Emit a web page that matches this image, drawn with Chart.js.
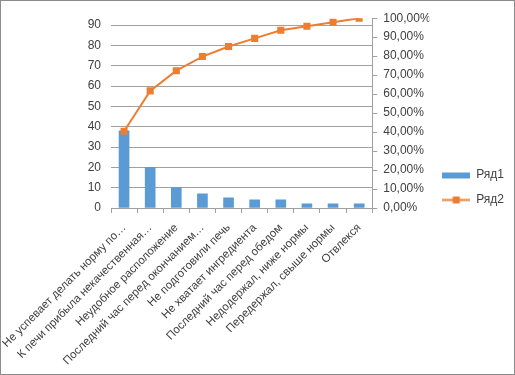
<!DOCTYPE html>
<html>
<head>
<meta charset="utf-8">
<script src="https://cdn.jsdelivr.net/npm/chart.js@4.4.1/dist/chart.umd.min.js"></script>
<style>
  html, body { margin: 0; padding: 0; background: #fff; }
  #wrap { width: 513px; height: 373px; border: 1px solid #8c8c8c; position: relative; }
</style>
</head>
<body>
<div id="wrap"><canvas id="paretoChart" width="513" height="373"></canvas></div>
<script>
// reasons (categories)
const labels = [
    "Не успевает делать норму по…",
    "К печи прибыла некачественная…",
    "Неудобное расположение",
    "Последний час перед окончанием…",
    "Не подготовили печь",
    "Не хватает ингредиента",
    "Последний час перед обедом",
    "Недодержал, ниже нормы",
    "Передержал, свыше нормы",
    "Отвлекся"
];
// Ряд1 - counts
const counts = [38, 20, 10, 7, 5, 4, 4, 2, 2, 2];
// Ряд2 - cumulative share, %
const cumulative = [40.43, 61.70, 72.34, 79.79, 85.11, 89.36, 93.62, 95.74, 97.87, 100];
const leftTicks = [0, 10, 20, 30, 40, 50, 60, 70, 80, 90];

const barColor = "#5B9BD5";
const lineColor = "#ED7D31";
const textColor = "#404040";
const gridColor = "#a0a0a0";
const fontFamily = "'Liberation Sans', Arial, sans-serif";

// legend swatches
function swatch(type) {
    const c = document.createElement("canvas");
    c.width = 28; c.height = 9;
    const g = c.getContext("2d");
    if (type === "bar") {
        g.fillStyle = barColor;
        g.fillRect(0, 2, 28, 6);
    } else {
        g.strokeStyle = lineColor;
        g.lineWidth = 2;
        g.beginPath(); g.moveTo(0, 4.5); g.lineTo(28, 4.5); g.stroke();
        g.fillStyle = lineColor;
        g.fillRect(10.5, 1, 7, 7);
    }
    return c;
}

new Chart(document.getElementById("paretoChart").getContext("2d"), {
    type: "bar",
    data: {
        labels: labels,
        datasets: [
            {
                type: "line",
                label: "Ряд2",
                data: cumulative,
                yAxisID: "y1",
                borderColor: lineColor,
                backgroundColor: lineColor,
                borderWidth: 2,
                pointStyle: "rect",
                pointRadius: 5,
                pointBorderWidth: 0,
                tension: 0,
                order: 0
            },
            {
                label: "Ряд1",
                data: counts,
                yAxisID: "y",
                backgroundColor: barColor,
                barThickness: 10,
                order: 1
            }
        ]
    },
    options: {
        responsive: false,
        animation: false,
        layout: { padding: 0 },
        plugins: {
            tooltip: { enabled: false },
            legend: {
                position: "right",
                labels: {
                    color: textColor,
                    font: { family: fontFamily, size: 12 },
                    usePointStyle: true,
                    pointStyleWidth: 28,
                    padding: 13,
                    generateLabels() {
                        return [
                            { text: "Ряд1", pointStyle: swatch("bar"), fillStyle: barColor, strokeStyle: barColor, lineWidth: 0, fontColor: textColor },
                            { text: "Ряд2", pointStyle: swatch("line"), fillStyle: lineColor, strokeStyle: lineColor, lineWidth: 0, fontColor: textColor }
                        ];
                    }
                }
            }
        },
        scales: {
            x: {
                offset: true,
                grid: { offset: true, drawOnChartArea: false, drawTicks: true, tickLength: 5, color: gridColor },
                border: { color: gridColor },
                ticks: {
                    color: textColor,
                    font: { family: fontFamily, size: 11.5 },
                    minRotation: 45,
                    maxRotation: 45,
                    autoSkip: false,
                    padding: 8
                },
                afterFit(scale) {
                    scale.height = 166;
                    scale.paddingLeft = 0;
                    scale.paddingRight = 0;
                }
            },
            y: {
                position: "left",
                min: 0,
                max: 93.4,
                afterBuildTicks(scale) { scale.ticks = leftTicks.map(v => ({ value: v })); },
                grid: { color: gridColor, drawTicks: false },
                border: { display: false },
                ticks: {
                    color: textColor,
                    font: { family: fontFamily, size: 12 },
                    padding: 10
                },
                afterFit(scale) { scale.width = 110; }
            },
            y1: {
                position: "right",
                min: 0,
                max: 100,
                grid: { drawOnChartArea: false, drawTicks: true, tickLength: 5, color: gridColor },
                border: { display: true, color: gridColor },
                ticks: {
                    stepSize: 10,
                    color: textColor,
                    font: { family: fontFamily, size: 12 },
                    padding: 6,
                    callback: v => v.toFixed(2).replace(".", ",") + "%"
                },
                afterFit(scale) {
                    scale.width = 57;
                    scale.paddingTop = 15;
                }
            }
        }
    }
});
</script>
</body>
</html>
